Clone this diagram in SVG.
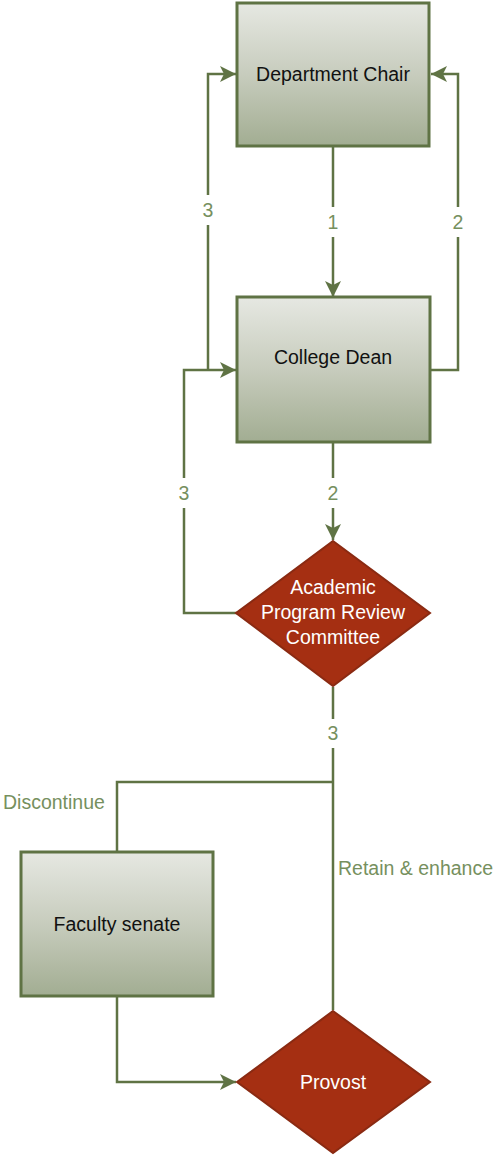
<svg xmlns="http://www.w3.org/2000/svg" width="500" height="1155" viewBox="0 0 500 1155">
<defs>
<linearGradient id="g" x1="0" y1="0" x2="0" y2="1">
<stop offset="0" stop-color="#E6E8E2"/>
<stop offset="0.5" stop-color="#C7CCBD"/>
<stop offset="1" stop-color="#A2AD92"/>
</linearGradient>
<marker id="a" viewBox="0 0 16 16" refX="16" refY="8" markerWidth="16" markerHeight="16" markerUnits="userSpaceOnUse" orient="auto">
<path d="M0,0 L16,8 L0,16 L4,8 z" fill="#5F7344"/>
</marker>
</defs>
<style>
.box{fill:url(#g);stroke:#5F7344;stroke-width:3}
.dia{fill:#A52F12;stroke:#8A2A12;stroke-width:2}
.ln{fill:none;stroke:#5F7344;stroke-width:2.5}
.t{font-family:"Liberation Sans",Arial,sans-serif;font-size:19.5px;fill:#111;text-anchor:middle}
.tw{font-family:"Liberation Sans",Arial,sans-serif;font-size:19.5px;fill:#fff;text-anchor:middle}
.lb{font-family:"Liberation Sans",Arial,sans-serif;font-size:19.5px;fill:#76905E;text-anchor:middle}
.ls{text-anchor:start}
.bg{fill:#fff}
</style>
<g id="connectors">
<path class="ln" d="M333,147 V297" marker-end="url(#a)"/>
<path class="ln" d="M430,370 H458 V74 H431" marker-end="url(#a)"/>
<path class="ln" d="M237,613 H184 V370 H236" marker-end="url(#a)"/>
<path class="ln" d="M208,370 V74 H236" marker-end="url(#a)"/>
<path class="ln" d="M333,443 V540" marker-end="url(#a)"/>
<path class="ln" d="M333,687 V1010"/>
<path class="ln" d="M333,782 H117 V852"/>
<path class="ln" d="M117,997 V1082 H236" marker-end="url(#a)"/>
<rect class="bg" x="324" y="207" width="18" height="30"/>
<text class="lb" x="333" y="229">1</text>
<rect class="bg" x="449" y="207" width="18" height="30"/>
<text class="lb" x="458" y="229">2</text>
<rect class="bg" x="199" y="195" width="18" height="30"/>
<text class="lb" x="208" y="217">3</text>
<rect class="bg" x="324" y="478" width="18" height="30"/>
<text class="lb" x="333" y="500">2</text>
<rect class="bg" x="175" y="478" width="18" height="30"/>
<text class="lb" x="184" y="500">3</text>
<rect class="bg" x="324" y="719" width="18" height="29"/>
<text class="lb" x="333" y="740">3</text>
<text class="lb ls" x="3" y="809">Discontinue</text>
<text class="lb ls" x="338" y="875">Retain &amp; enhance</text>
</g>
<g id="department-chair">
<rect class="box" x="237" y="3" width="192" height="143"/>
<text class="t" x="333" y="81">Department Chair</text>
</g>
<g id="college-dean">
<rect class="box" x="237" y="297" width="193" height="145"/>
<text class="t" x="333" y="364">College Dean</text>
</g>
<g id="aprc">
<path class="dia" d="M333,541 L430,613 L333,686 L236,613 z"/>
<text class="tw" x="333" y="594">Academic</text>
<text class="tw" x="333" y="619">Program Review</text>
<text class="tw" x="333" y="644">Committee</text>
</g>
<g id="faculty-senate">
<rect class="box" x="21" y="852" width="192" height="144"/>
<text class="t" x="117" y="931">Faculty senate</text>
</g>
<g id="provost">
<path class="dia" d="M333,1011 L430,1082 L333,1153 L237,1082 z"/>
<text class="tw" x="333" y="1089">Provost</text>
</g>
</svg>
